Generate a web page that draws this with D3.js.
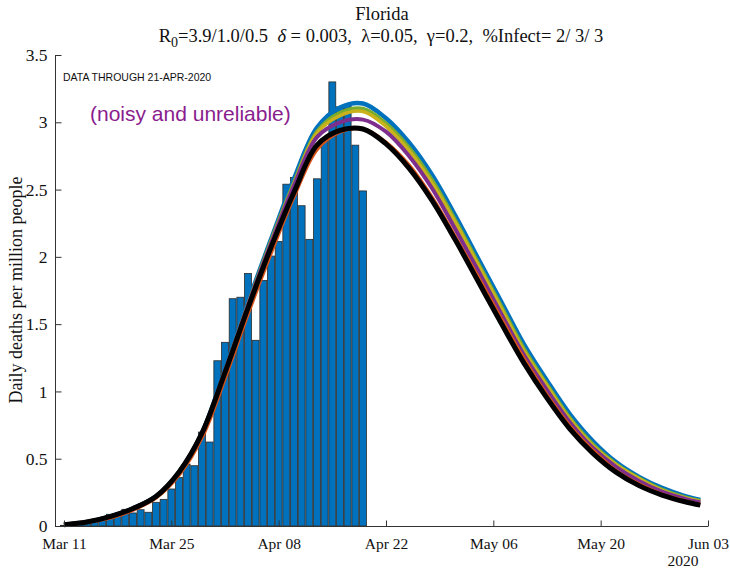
<!DOCTYPE html>
<html><head><meta charset="utf-8">
<script src="https://cdn.jsdelivr.net/npm/d3@7"></script>
<style>body{margin:0;background:#fff}svg{display:block}</style>
</head><body><div id="chart"></div>
<script>
// ---- data ----
const barStart = "2020-03-11";
const barValues = [0.005,0.008,0.013,0.02,0.037,0.062,0.087,0.072,0.124,0.097,0.121,0.102,0.176,0.198,0.275,0.36,
  0.46,0.448,0.698,0.624,1.228,1.365,1.689,1.70,1.877,1.38,1.825,2.006,2.115,2.54,2.59,2.38,2.13,2.58,2.88,3.30,3.115,3.13,2.83,2.49];
const curveDays = [0,3,6,9,12,15,18,21,24,27,30,33,36,39,42,45,48,51,54,57,60,63,66,69,72,75,78,81,83];
const curveBlue   = [0.01,0.03,0.07,0.13,0.22,0.40,0.69,1.16,1.66,2.13,2.58,2.96,3.11,3.14,3.03,2.85,2.61,2.31,1.99,1.67,1.35,1.08,0.83,0.63,0.475,0.365,0.283,0.222,0.193];
const curveGreen  = [0.01,0.03,0.07,0.13,0.22,0.40,0.69,1.15,1.645,2.115,2.55,2.93,3.07,3.10,2.99,2.81,2.57,2.275,1.955,1.635,1.315,1.05,0.80,0.605,0.46,0.355,0.27,0.212,0.186];
const curveYellow = [0.01,0.03,0.07,0.13,0.22,0.40,0.69,1.15,1.64,2.11,2.54,2.92,3.05,3.08,2.97,2.79,2.55,2.26,1.94,1.62,1.30,1.04,0.79,0.595,0.455,0.35,0.265,0.208,0.183];
const curvePurple = [0.01,0.03,0.07,0.13,0.22,0.40,0.69,1.15,1.64,2.10,2.53,2.89,3.00,3.02,2.93,2.75,2.51,2.21,1.90,1.58,1.27,1.01,0.77,0.58,0.44,0.335,0.255,0.202,0.175];
const curveOrange = [0.01,0.03,0.06,0.12,0.21,0.38,0.66,1.10,1.58,2.03,2.45,2.80,2.93,2.95,2.85,2.68,2.44,2.15,1.85,1.54,1.24,0.97,0.74,0.56,0.41,0.31,0.235,0.185,0.16];
const curveBlack  = [0.01,0.03,0.07,0.13,0.22,0.40,0.69,1.14,1.62,2.07,2.48,2.83,2.94,2.95,2.84,2.66,2.42,2.13,1.82,1.51,1.21,0.95,0.72,0.54,0.40,0.30,0.23,0.18,0.155];
const xTickLabels = ["2020-03-11","2020-03-25","2020-04-08","2020-04-22","2020-05-06","2020-05-20","2020-06-03"];
const yTicks = [0,0.5,1,1.5,2,2.5,3,3.5];
const titleLine1 = "Florida";
const annotation1 = "DATA THROUGH 21-APR-2020";
const annotation2 = "(noisy and unreliable)";
const yLabel = "Daily deaths per million people";

// ---- layout ----
const W = 730, H = 569;
const svg = d3.select("#chart").append("svg").attr("width", W).attr("height", H);
const parse = d3.utcParse("%Y-%m-%d");
const day = 864e5;
const t0 = parse(barStart);
const x = d3.scaleUtc()
  .domain([new Date(t0.getTime() - 1.17*day), parse("2020-06-03")])
  .range([55, 708]);
const y = d3.scaleLinear().domain([0, 3.5]).range([526, 55]);
const serif = "'Liberation Serif','Times New Roman',serif";
const sans = "'Liberation Sans',Arial,Helvetica,sans-serif";

// bars
const bw = (x(new Date(t0.getTime()+day)) - x(t0)) * 0.9;
svg.append("g").selectAll("rect").data(barValues).join("rect")
  .attr("x", (d,i) => x(new Date(t0.getTime()+i*day)) - bw/2)
  .attr("y", d => y(d))
  .attr("width", bw)
  .attr("height", d => y(0) - y(d))
  .attr("fill", "#0072BD")
  .attr("stroke", "#2b2b2b").attr("stroke-width", 0.8);

// curves
const series = [
  {v: curveBlue, c: "#0072BD", w: 4.5},
  {v: curveGreen, c: "#77AC30", w: 4},
  {v: curveYellow, c: "#C9B21C", w: 3.5},
  {v: curvePurple, c: "#7E2F8E", w: 4},
  {v: curveOrange, c: "#D95319", w: 4},
  {v: curveBlack, c: "#000000", w: 5}
];
const line = d3.line()
  .x((d,i) => x(new Date(t0.getTime()+curveDays[i]*day)))
  .y(d => y(d))
  .curve(d3.curveCatmullRom.alpha(0.5));
svg.append("g").selectAll("path").data(series).join("path")
  .attr("d", s => line(s.v))
  .attr("fill", "none")
  .attr("stroke", s => s.c)
  .attr("stroke-width", s => s.w)
  .attr("stroke-linejoin", "round");

// axes
const axCol = "#333";
const xAxis = d3.axisBottom(x)
  .tickValues(xTickLabels.map(parse))
  .tickFormat(d3.utcFormat("%b %d"))
  .tickSizeInner(-6).tickSizeOuter(0).tickPadding(11);
const gx = svg.append("g").attr("transform", "translate(0,526.5)").call(xAxis);
const yAxis = d3.axisLeft(y).tickValues(yTicks).tickFormat(d3.format("~g"))
  .tickSizeInner(-6).tickSizeOuter(0).tickPadding(8);
const gy = svg.append("g").attr("transform", "translate(55.5,0)").call(yAxis);
[gx, gy].forEach(g => {
  g.selectAll("path,line").attr("stroke", axCol);
  g.selectAll("text").attr("font-family", serif).attr("fill", "#111");
});
gx.selectAll("text").attr("font-size", 15.5);
gy.selectAll("text").attr("font-size", 17.5);
gy.select(".domain").attr("d", "M0,526V55");
gx.select(".domain").attr("d", "M55,0H708");

svg.append("text").attr("x", 683).attr("y", 566).attr("text-anchor", "middle")
  .attr("font-family", serif).attr("font-size", 15.5).attr("fill", "#111").text("2020");

// titles
svg.append("text").attr("x", 382).attr("y", 20).attr("text-anchor", "middle")
  .attr("font-family", serif).attr("font-size", 18.5).attr("fill", "#111").text(titleLine1);
const t2 = svg.append("text").attr("x", 381).attr("y", 42).attr("text-anchor", "middle")
  .attr("font-family", serif).attr("font-size", 18.5).attr("fill", "#111");
t2.append("tspan").text("R");
t2.append("tspan").attr("dy", 5).attr("font-size", 14).text("0");
t2.append("tspan").attr("dy", -5).text("=3.9/1.0/0.5\u00a0\u00a0");
t2.append("tspan").attr("font-style", "italic").text("\u03b4");
t2.append("tspan").text(" = 0.003,\u00a0\u00a0\u03bb=0.05,\u00a0\u00a0\u03b3=0.2,\u00a0\u00a0%Infect= 2/ 3/ 3");

// y label
svg.append("text").attr("transform", "translate(22,290) rotate(-90)").attr("text-anchor", "middle")
  .attr("font-family", serif).attr("font-size", 18).attr("fill", "#111").text(yLabel);

// annotations
svg.append("text").attr("x", 63).attr("y", 81).attr("font-family", sans).attr("font-size", 10.5)
  .attr("fill", "#111").text(annotation1);
svg.append("text").attr("x", 90).attr("y", 121).attr("font-family", sans).attr("font-size", 21)
  .attr("fill", "#8A1D8E").text(annotation2);
</script></body></html>
